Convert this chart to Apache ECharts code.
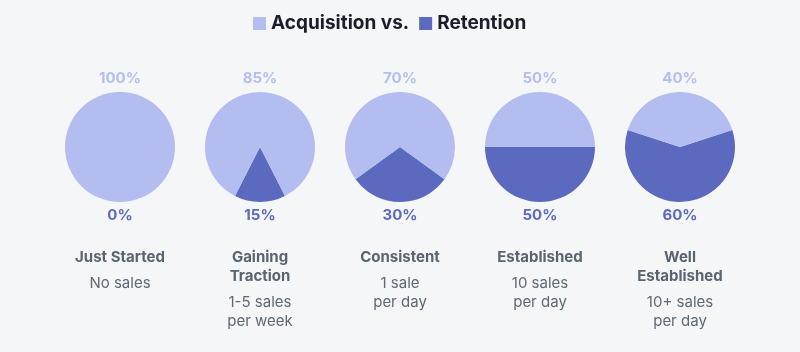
<!DOCTYPE html>
<html lang="en">
	<head>
		<meta charset="UTF-8">
		<title>Acquisition vs. Retention</title>
		<script src="https://cdn.jsdelivr.net/npm/echarts@6/dist/echarts.min.js"></script>
		<style>
			html, body { margin: 0; padding: 0; background: #f4f6f8; }
			#chart { width: 800px; height: 352px; }
		</style>
	</head>
	<body>
		<div id="chart"></div>
		<script>
			// data
			const stages = ['Just Started', 'Gaining\nTraction', 'Consistent', 'Established', 'Well\nEstablished'];
			const descriptions = ['No sales', '1-5 sales\nper week', '1 sale\nper day', '10 sales\nper day', '10+ sales\nper day'];
			const acquisition = [100, 85, 70, 50, 40];
			const retention = [0, 15, 30, 50, 60];

			const lightColor = '#b3bdf0';
			const darkColor = '#5b69be';
			const font = 'Inter';

			const chart = echarts.init(document.getElementById('chart'));

			const series = [];
			const titles = [];
			stages.forEach(function (name, i) {
				const cx = 120 + i * 140;
				// 리텐션 조각이 아래쪽 가운데 오도록 시작각 계산
				const start = -90 + retention[i] * 1.8;
				series.push({
					type: 'pie',
					center: [cx, 147],
					radius: [0, 55],
					startAngle: start,
					clockwise: true,
					silent: true,
					label: { show: false },
					labelLine: { show: false },
					itemStyle: { borderWidth: 0 },
					data: [
						{ name: 'Retention', value: retention[i], itemStyle: { color: darkColor } },
						{ name: 'Acquisition', value: acquisition[i], itemStyle: { color: lightColor } }
					]
				});
				titles.push({
					text: acquisition[i] + '%',
					left: cx, top: 69, textAlign: 'center', padding: 0,
					textStyle: { color: lightColor, fontSize: 15, fontWeight: 'bold', fontFamily: font, lineHeight: 18 }
				});
				titles.push({
					text: retention[i] + '%',
					left: cx, top: 206, textAlign: 'center', padding: 0,
					textStyle: { color: darkColor, fontSize: 15, fontWeight: 'bold', fontFamily: font, lineHeight: 18 }
				});
				titles.push({
					text: name,
					subtext: descriptions[i],
					left: cx, top: 247.5, textAlign: 'center', padding: 0, itemGap: 7,
					textStyle: { color: '#5a6370', fontSize: 15, fontWeight: 'bold', fontFamily: font, lineHeight: 19 },
					subtextStyle: { color: '#5f6875', fontSize: 15, fontWeight: 'normal', fontFamily: font, lineHeight: 19 }
				});
			});

			const option = {
				backgroundColor: '#f4f6f8',
				animation: false,
				title: titles,
				legend: {
					top: 14,
					left: 253,
					padding: 0,
					data: ['Acquisition', 'Retention'],
					itemWidth: 13,
					itemHeight: 13,
					itemGap: 10,
					icon: 'rect',
					selectedMode: false,
					formatter: function (n) { return n === 'Acquisition' ? 'Acquisition vs.' : n; },
					textStyle: { color: '#1b1d2b', fontSize: 19, fontWeight: 'bold', fontFamily: font }
				},
				series: series
			};

			chart.setOption(option);
		</script>
	</body>
</html>
